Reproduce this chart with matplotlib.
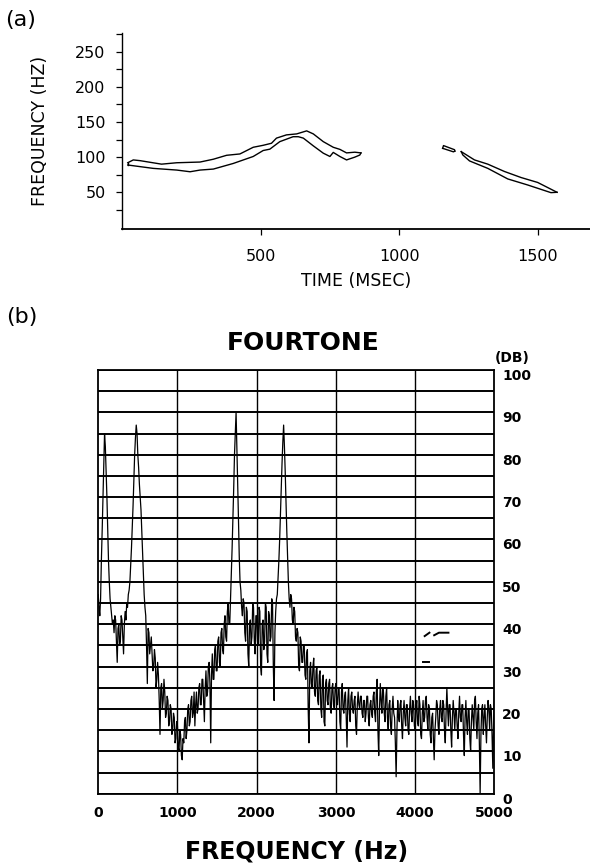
import numpy as np
import matplotlib
matplotlib.use("Agg")
import matplotlib.pyplot as plt
from matplotlib.transforms import ScaledTranslation

# ---------------- Panel (a): pitch contour (outline of the trace) ----------------
seg1_upper_t = [20, 40, 64, 142, 197, 281, 329, 377, 425, 473, 509, 539, 557, 593, 630, 666, 690, 726, 762, 786, 810, 840, 862]
seg1_upper_f = [92, 96, 95, 90, 92, 93, 97, 102.6, 104.5, 114, 116.8, 119.7, 127, 131.6, 133, 137.3, 133, 122, 114, 111, 106, 107, 106]
seg1_lower_t = [20, 64, 112, 197, 245, 281, 329, 401, 473, 509, 533, 569, 617, 636, 654, 690, 726, 750, 762, 786, 810, 840, 858, 862]
seg1_lower_f = [88.8, 86.5, 84, 81.6, 79.2, 81.6, 83, 91, 100.9, 109.4, 111.3, 122, 129, 129, 127, 116, 105.6, 100.9, 106.7, 100.9, 96, 100, 103, 106]

seg2_upper_t = [1157, 1160, 1200, 1201]
seg2_upper_f = [112.5, 116.4, 110.5, 108.5]
seg2_lower_t = [1157, 1196, 1201]
seg2_lower_f = [112.5, 107.5, 108.5]

seg3_upper_t = [1224, 1272, 1320, 1380, 1440, 1500, 1570]
seg3_upper_f = [107.8, 96, 90, 79.6, 71, 64, 50]
seg3_lower_t = [1224, 1230, 1254, 1320, 1392, 1464, 1548, 1570]
seg3_lower_f = [107.8, 103, 94.6, 84, 69, 60.4, 49.5, 50]

a_yticks = [50, 100, 150, 200, 250]
a_yminor = [25, 75, 125, 175, 225, 275]
a_xticks = [500, 1000, 1500]

# ---------------- Panel (b): FOURTONE spectrum (dB per 10 Hz bin, 0..5000 Hz) ----------------
BIN_HZ = 10
spectrum_db = [
    47, 44, 42, 46, 55, 62, 70, 78, 85, 82,      # 0-90
    76, 70, 62, 55, 50, 46, 44, 42, 40, 41,      # 100-190
    38, 42, 41, 36, 31, 39, 40, 35, 36, 42,      # 200-290
    41, 37, 33, 40, 43, 41, 45, 44, 47, 48,      # 300-390
    50, 54, 58, 63, 68, 74, 80, 84, 87, 85,      # 400-490
    80, 77, 73, 70, 67, 62, 57, 52, 47, 44,      # 500-590
    42, 35, 26, 39, 38, 33, 35, 37, 33, 29,      # 600-690
    30, 34, 32, 25, 27, 31, 28, 22, 14, 25,      # 700-790
    26, 20, 22, 27, 24, 18, 19, 23, 22, 16,      # 800-890
    17, 21, 20, 14, 15, 19, 18, 12, 13, 17,      # 900-990
    16, 11, 10, 15, 14, 9, 8, 13, 12, 17,        # 1000-1090
    18, 13, 15, 20, 21, 16, 17, 22, 23, 18,      # 1100-1190
    19, 24, 16, 21, 24, 19, 20, 25, 26, 21,      # 1200-1290
    21, 27, 27, 22, 17, 25, 29, 23, 24, 30,      # 1300-1390
    31, 26, 12, 28, 33, 27, 27, 34, 35, 29,      # 1400-1490
    29, 36, 37, 31, 30, 38, 39, 34, 33, 40,      # 1500-1590
    42, 37, 36, 43, 45, 40, 40, 46, 52, 58,      # 1600-1690
    65, 72, 80, 85, 90, 82, 74, 65, 56, 50,      # 1700-1790
    48, 44, 42, 46, 45, 38, 36, 44, 43, 33,      # 1800-1890
    30, 40, 41, 35, 37, 45, 44, 36, 33, 42,      # 1900-1990
    42, 36, 35, 44, 43, 30, 28, 40, 41, 34,      # 2000-2090
    36, 45, 44, 33, 31, 43, 42, 36, 37, 46,      # 2100-2190
    45, 30, 22, 38, 43, 46, 47, 51, 55, 60,      # 2200-2290
    66, 72, 78, 83, 87, 82, 76, 69, 62, 56,      # 2300-2390
    50, 46, 44, 47, 46, 41, 40, 44, 43, 37,      # 2400-2490
    36, 39, 38, 30, 29, 37, 36, 31, 31, 35,      # 2500-2590
    35, 28, 27, 33, 34, 20, 12, 29, 31, 26,      # 2600-2690
    25, 30, 32, 24, 23, 29, 30, 22, 21, 28,      # 2700-2790
    29, 20, 18, 27, 28, 17, 16, 26, 27, 22,      # 2800-2890
    21, 26, 27, 20, 19, 25, 26, 21, 20, 25,      # 2900-2990
    26, 22, 21, 25, 25, 17, 15, 24, 26, 20,      # 3000-3090
    19, 23, 24, 18, 11, 22, 25, 19, 17, 23,      # 3100-3190
    24, 20, 19, 22, 23, 16, 14, 21, 24, 21,      # 3200-3290
    20, 23, 23, 19, 18, 22, 22, 17, 19, 23,      # 3300-3390
    23, 18, 16, 21, 22, 19, 18, 23, 24, 19,      # 3400-3490
    17, 24, 27, 15, 9, 20, 26, 22, 19, 25,       # 3500-3590
    24, 19, 17, 23, 25, 18, 15, 21, 22, 16,      # 3600-3690
    14, 20, 23, 19, 18, 12, 4, 15, 22, 18,       # 3700-3790
    17, 21, 22, 16, 13, 19, 22, 18, 16, 21,      # 3800-3890
    21, 15, 14, 20, 23, 19, 17, 22, 21, 16,      # 3900-3990
    15, 20, 22, 17, 16, 23, 21, 14, 13, 19,      # 4000-4090
    22, 17, 18, 22, 23, 18, 15, 21, 20, 14,      # 4100-4190
    12, 18, 19, 13, 8, 15, 18, 22, 21, 16,       # 4200-4290
    14, 20, 22, 18, 17, 22, 21, 15, 12, 19,      # 4300-4390
    25, 20, 16, 21, 21, 15, 11, 18, 22, 19,      # 4400-4490
    15, 20, 20, 16, 13, 19, 23, 18, 17, 21,      # 4500-4590
    21, 14, 9, 18, 22, 17, 14, 20, 20, 13,       # 4600-4690
    10, 17, 21, 18, 15, 22, 23, 17, 13, 19,      # 4700-4790
    21, 12, 0, 14, 20, 21, 14, 18, 21, 16,       # 4800-4890
    12, 18, 22, 20, 15, 21, 20, 14, 6, 17,       # 4900-4990
    24,                                          # 5000
]

# small stray marks printed on the plot
stray1_hz = [4120, 4180]
stray1_db = [37.2, 38.0]
stray2_hz = [4240, 4300, 4420]
stray2_db = [37.4, 38.0, 38.0]
stray3_hz = [4100, 4170]
stray3_db = [31.0, 31.0]

b_yticks = [0, 10, 20, 30, 40, 50, 60, 70, 80, 90, 100]
b_hgrid = list(range(0, 101, 5))
b_xticks = [0, 1000, 2000, 3000, 4000, 5000]
b_vgrid = [1000, 2000, 3000, 4000]

# ---------------- Figure ----------------
W, H = 590, 863
DPI = 100
fig = plt.figure(figsize=(W / DPI, H / DPI), dpi=DPI)
plt.rcParams['font.family'] = ['DejaVu Sans']

def fx(px):
    return px / W

def fy(py):
    return 1 - py / H

# ---- Panel (a)
axA = fig.add_axes([fx(122.2), fy(229.3), fx(590 - 122.2), (229.3 - 33.3) / H])
for ut, uf, lt, lf in [(seg1_upper_t, seg1_upper_f, seg1_lower_t, seg1_lower_f),
                       (seg2_upper_t, seg2_upper_f, seg2_lower_t, seg2_lower_f),
                       (seg3_upper_t, seg3_upper_f, seg3_lower_t, seg3_lower_f)]:
    axA.plot(ut, uf, color='black', lw=1.0, solid_joinstyle='round')
    axA.plot(lt, lf, color='black', lw=1.0, solid_joinstyle='round')
    axA.plot([ut[0], lt[0]], [uf[0], lf[0]], color='black', lw=1.0)

axA.set_xlim(0, 1689)
axA.set_ylim(-2.6, 276)
axA.spines['top'].set_visible(False)
axA.spines['right'].set_visible(False)
axA.spines['left'].set_linewidth(1.0)
axA.spines['bottom'].set_linewidth(1.3)
axA.set_yticks(a_yticks)
axA.set_yticks(a_yminor, minor=True)
axA.set_xticks(a_xticks)
axA.tick_params(axis='y', which='both', direction='out', length=4, width=0.9,
                labelsize=11.5, pad=8)
axA.tick_params(axis='x', which='both', direction='out', length=4, width=0.9,
                labelsize=11.5, pad=10)
axA.set_xlabel('TIME (MSEC)', fontsize=12.5, labelpad=6)
axA.set_ylabel('FREQUENCY (HZ)', fontsize=12.5, labelpad=19)
fig.text(fx(21), fy(20), '(a)', fontsize=16, ha='center', va='center')

# ---- Panel (b)
axB = fig.add_axes([fx(98.2), fy(793.7), fx(494.4 - 98.2), (793.7 - 370) / H])
freqs = np.arange(len(spectrum_db)) * BIN_HZ
for g in b_hgrid:
    axB.axhline(g, color='black', lw=1.4, zorder=1)
for g in b_vgrid:
    axB.axvline(g, color='black', lw=1.0, zorder=1)
axB.plot(freqs, spectrum_db, color='black', lw=0.9, zorder=3)
for hz, db in [(stray1_hz, stray1_db), (stray2_hz, stray2_db), (stray3_hz, stray3_db)]:
    axB.plot(hz, db, color='black', lw=1.4, zorder=3)

axB.set_xlim(0, 5000)
axB.set_ylim(0, 100)
for s in axB.spines.values():
    s.set_linewidth(1.3)
axB.yaxis.tick_right()
axB.set_yticks(b_yticks)
axB.set_xticks(b_xticks)
axB.tick_params(axis='y', length=0, pad=5.5, labelsize=10)
axB.tick_params(axis='x', length=0, pad=9, labelsize=10)
for lab in axB.get_yticklabels():
    lab.set_fontweight('bold')
    lab.set_transform(lab.get_transform() + ScaledTranslation(0, -4.5 / DPI, fig.dpi_scale_trans))
for lab in axB.get_xticklabels():
    lab.set_fontweight('bold')
axB.set_xlabel('FREQUENCY (Hz)', fontsize=17, fontweight='bold', labelpad=14)

fig.text(fx(303.5), fy(343), 'FOURTONE', fontsize=18, fontweight='bold', ha='center', va='center')
fig.text(fx(512), fy(358), '(DB)', fontsize=10, fontweight='bold', ha='center', va='center')
fig.text(fx(21.7), fy(316.7), '(b)', fontsize=16, ha='center', va='center')

fig.savefig('out.png', dpi=DPI)
